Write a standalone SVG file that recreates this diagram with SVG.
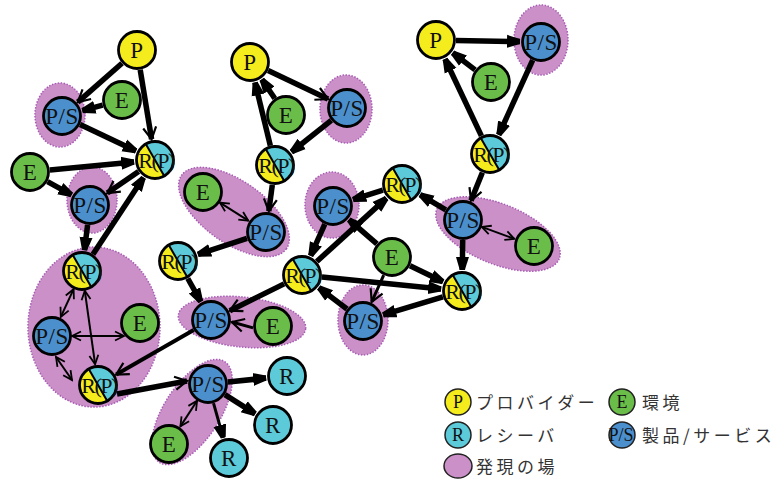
<svg xmlns="http://www.w3.org/2000/svg" width="774" height="480" viewBox="0 0 774 480">
<style>
.f{fill:#cb90c7;stroke:#a85bb5;stroke-width:1.5;stroke-dasharray:1.5 1.5}
.k{stroke:#000;stroke-width:5.5;fill:none}
.m{stroke:#000;stroke-width:3;fill:none}
.t{stroke:#000;stroke-width:2;fill:none}
.n{stroke:#000;stroke-width:2.8}
.y{fill:#f5ec1d}.g{fill:#6bbd4a}.b{fill:#4b8fcd}.c{fill:#5ccad8}
.lb{font-family:"Liberation Serif",serif;font-size:23px;text-anchor:middle;fill:#111;letter-spacing:0.5px}
.rp{font-family:"Liberation Serif",serif;font-size:22px;text-anchor:middle;fill:#111;letter-spacing:-1.5px}
.lg{font-family:"Noto Sans CJK JP",sans-serif;font-size:17px;letter-spacing:3.5px;fill:#333}
.li{stroke:#222;stroke-width:1.5}
.ll{font-family:"Liberation Serif",serif;font-size:18px;text-anchor:middle;fill:#111}
</style>
<defs>
<marker id="fh" markerUnits="userSpaceOnUse" markerWidth="16" markerHeight="16" refX="13" refY="8" orient="auto"><path d="M0,1.5 L13,5.5 L13,10.5 L0,14.5 z" fill="#000"/></marker>
<marker id="oh" markerUnits="userSpaceOnUse" markerWidth="16" markerHeight="16" refX="13" refY="8" orient="auto"><path d="M1,1.5 L13,8 L1,14.5" fill="none" stroke="#000" stroke-width="2.2"/></marker>
<marker id="ot" markerUnits="userSpaceOnUse" markerWidth="12" markerHeight="12" refX="10" refY="6" orient="auto-start-reverse"><path d="M1,1.5 L10,6 L1,10.5" fill="none" stroke="#000" stroke-width="1.8"/></marker>
</defs>

<g id="fields">
<ellipse class="f" cx="60" cy="115" rx="25" ry="32"/>
<ellipse class="f" cx="92" cy="200" rx="25" ry="33"/>
<ellipse class="f" cx="94" cy="327" rx="66" ry="80"/>
<ellipse class="f" cx="346" cy="109" rx="26" ry="34"/>
<ellipse class="f" cx="234" cy="212" rx="64" ry="31" transform="rotate(35 234 212)"/>
<ellipse class="f" cx="242" cy="322" rx="64" ry="25" transform="rotate(6 242 322)"/>
<ellipse class="f" cx="192" cy="412" rx="60" ry="28" transform="rotate(-57 192 412)"/>
<ellipse class="f" cx="541" cy="40" rx="27" ry="35"/>
<ellipse class="f" cx="332" cy="205" rx="27" ry="33"/>
<ellipse class="f" cx="498" cy="234" rx="66" ry="30" transform="rotate(22 498 234)"/>
<ellipse class="f" cx="363" cy="320" rx="25" ry="35"/>
</g>

<g id="connectors">
<line class="k" x1="122" y1="63.2" x2="77.8" y2="102.1" marker-end="url(#oh)"/>
<line class="k" x1="102.7" y1="105.2" x2="82.3" y2="110.6" marker-end="url(#fh)"/>
<line class="k" x1="140.2" y1="69.7" x2="151.6" y2="139.3" marker-end="url(#oh)"/>
<line class="k" x1="80.1" y1="124.6" x2="136" y2="151" marker-end="url(#fh)"/>
<line class="k" x1="49.9" y1="170.1" x2="134.1" y2="162" marker-end="url(#fh)"/>
<line class="k" x1="138.6" y1="171.4" x2="107.3" y2="193.1" marker-end="url(#oh)"/>
<line class="k" x1="47.5" y1="181.6" x2="71.6" y2="194.9" marker-end="url(#fh)"/>
<line class="k" x1="93" y1="254.3" x2="143.5" y2="177.5" marker-end="url(#fh)"/>
<line class="k" x1="87.6" y1="224.8" x2="84.5" y2="250.2" marker-end="url(#fh)"/>
<line class="t" x1="73.6" y1="289.2" x2="60.8" y2="316.9" marker-start="url(#ot)" marker-end="url(#ot)"/>
<line class="t" x1="84.8" y1="290.8" x2="95.1" y2="364.2" marker-start="url(#ot)" marker-end="url(#ot)"/>
<line class="t" x1="72" y1="336" x2="124" y2="336" marker-start="url(#ot)" marker-end="url(#ot)"/>
<line class="t" x1="56" y1="357" x2="72" y2="380" marker-start="url(#ot)" marker-end="url(#ot)"/>
<line class="m" style="stroke-width:4" x1="193.7" y1="330" x2="116.2" y2="374.5" marker-end="url(#oh)"/>
<line class="k" x1="117" y1="394" x2="187" y2="381" marker-end="url(#oh)"/>
<line class="k" x1="268.1" y1="70.6" x2="328" y2="99" marker-end="url(#oh)"/>
<line class="k" x1="274.8" y1="98.5" x2="261.8" y2="79.4" marker-end="url(#fh)"/>
<line class="k" x1="270.3" y1="145.6" x2="255" y2="82.4" marker-end="url(#fh)"/>
<line class="k" x1="331.3" y1="120.4" x2="291.5" y2="152" marker-end="url(#fh)"/>
<line class="k" x1="272.3" y1="184.8" x2="268.8" y2="211.2" marker-end="url(#oh)"/>
<line class="t" x1="219.9" y1="202.7" x2="248.3" y2="220.7" marker-start="url(#ot)" marker-end="url(#ot)"/>
<line class="k" x1="247" y1="238.3" x2="197.9" y2="254.4" marker-end="url(#fh)"/>
<line class="k" x1="187.8" y1="278.5" x2="200.8" y2="301.7" marker-end="url(#fh)"/>
<line class="k" x1="284.1" y1="283.9" x2="229.8" y2="310.7" marker-end="url(#oh)"/>
<line class="m" x1="253.1" y1="327.9" x2="231.9" y2="322" marker-end="url(#oh)"/>
<line class="k" x1="227.9" y1="382" x2="266.1" y2="378.1" marker-end="url(#fh)"/>
<line class="k" x1="224.9" y1="394.7" x2="255.2" y2="413.8" marker-end="url(#fh)"/>
<line class="m" x1="213.5" y1="403.2" x2="223.3" y2="437.8" marker-end="url(#fh)"/>
<line class="t" x1="197.1" y1="400.8" x2="180.4" y2="426.4" marker-start="url(#ot)" marker-end="url(#ot)"/>
<line class="k" x1="456" y1="40.4" x2="520" y2="41.6" marker-end="url(#fh)"/>
<line class="k" x1="475.1" y1="69.9" x2="452.7" y2="52.7" marker-end="url(#fh)"/>
<line class="k" x1="481.4" y1="135.9" x2="445" y2="59" marker-end="url(#fh)"/>
<line class="k" x1="532.7" y1="60.2" x2="498.7" y2="134.9" marker-end="url(#fh)"/>
<line class="k" x1="482.4" y1="172.5" x2="471" y2="200.6" marker-end="url(#oh)"/>
<line class="k" x1="445.8" y1="209.8" x2="420.1" y2="194.7" marker-end="url(#fh)"/>
<line class="k" x1="382.9" y1="190.1" x2="353" y2="199.6" marker-end="url(#fh)"/>
<line class="k" x1="324.8" y1="224.2" x2="310.6" y2="255.8" marker-end="url(#fh)"/>
<line class="k" x1="316.8" y1="261.5" x2="386.5" y2="198.1" marker-end="url(#fh)"/>
<line class="k" x1="376.9" y1="243.9" x2="348.9" y2="219.7" marker-end="url(#fh)"/>
<line class="k" x1="410" y1="265.7" x2="443.1" y2="281.8" marker-end="url(#fh)"/>
<line class="k" x1="321.9" y1="277" x2="441.1" y2="288.9" marker-end="url(#fh)"/>
<line class="m" x1="383.7" y1="275.2" x2="371.7" y2="301.9" marker-end="url(#oh)"/>
<line class="k" x1="347" y1="309" x2="318.8" y2="287.6" marker-end="url(#fh)"/>
<line class="k" x1="442.9" y1="296.8" x2="383.1" y2="314.9" marker-end="url(#fh)"/>
<line class="k" x1="462.7" y1="240" x2="462.3" y2="270" marker-end="url(#fh)"/>
<line class="t" x1="481.8" y1="226.9" x2="514.3" y2="238.8" marker-start="url(#ot)" marker-end="url(#ot)"/>
</g>

<g id="P1" transform="translate(137,50)"><circle r="18.5" class="n y"/><text y="8" class="lb">P</text></g>
<g id="P2" transform="translate(250,62)"><circle r="18.5" class="n y"/><text y="8" class="lb">P</text></g>
<g id="P3" transform="translate(436,40)"><circle r="18.5" class="n y"/><text y="8" class="lb">P</text></g>

<g id="E1" transform="translate(122,100)"><circle r="18.5" class="n g"/><text y="8" class="lb">E</text></g>
<g id="E2" transform="translate(30,172)"><circle r="18.5" class="n g"/><text y="8" class="lb">E</text></g>
<g id="E3" transform="translate(140,323)"><circle r="18.5" class="n g"/><text y="8" class="lb">E</text></g>
<g id="E4" transform="translate(286,115)"><circle r="18.5" class="n g"/><text y="8" class="lb">E</text></g>
<g id="E5" transform="translate(203,192)"><circle r="18.5" class="n g"/><text y="8" class="lb">E</text></g>
<g id="E6" transform="translate(273,326)"><circle r="18.5" class="n g"/><text y="8" class="lb">E</text></g>
<g id="E7" transform="translate(169,444)"><circle r="18.5" class="n g"/><text y="8" class="lb">E</text></g>
<g id="E8" transform="translate(491,82)"><circle r="18.5" class="n g"/><text y="8" class="lb">E</text></g>
<g id="E9" transform="translate(534,246)"><circle r="18.5" class="n g"/><text y="8" class="lb">E</text></g>
<g id="E10" transform="translate(392,257)"><circle r="18.5" class="n g"/><text y="8" class="lb">E</text></g>

<g id="PS1" transform="translate(62,116)"><circle r="18.5" class="n b"/><text y="8" class="lb">P/S</text></g>
<g id="PS2" transform="translate(90,205)"><circle r="18.5" class="n b"/><text y="8" class="lb">P/S</text></g>
<g id="PS3" transform="translate(52,336)"><circle r="18.5" class="n b"/><text y="8" class="lb">P/S</text></g>
<g id="PS4" transform="translate(347,108)"><circle r="18.5" class="n b"/><text y="8" class="lb">P/S</text></g>
<g id="PS5" transform="translate(266,232)"><circle r="18.5" class="n b"/><text y="8" class="lb">P/S</text></g>
<g id="PS6" transform="translate(211,320)"><circle r="18.5" class="n b"/><text y="8" class="lb">P/S</text></g>
<g id="PS7" transform="translate(208,384)"><circle r="18.5" class="n b"/><text y="8" class="lb">P/S</text></g>
<g id="PS8" transform="translate(541,42)"><circle r="18.5" class="n b"/><text y="8" class="lb">P/S</text></g>
<g id="PS9" transform="translate(333,206)"><circle r="18.5" class="n b"/><text y="8" class="lb">P/S</text></g>
<g id="PS10" transform="translate(463,220)"><circle r="18.5" class="n b"/><text y="8" class="lb">P/S</text></g>
<g id="PS11" transform="translate(363,321)"><circle r="18.5" class="n b"/><text y="8" class="lb">P/S</text></g>

<g id="R1" transform="translate(287,376)"><circle r="18.5" class="n c"/><text y="8" class="lb">R</text></g>
<g id="R2" transform="translate(273,425)"><circle r="18.5" class="n c"/><text y="8" class="lb">R</text></g>
<g id="R3" transform="translate(229,458)"><circle r="18.5" class="n c"/><text y="8" class="lb">R</text></g>

<g id="RP1" transform="translate(155,160)"><circle r="18.5" class="y"/><path d="M-9.25,-16.02 A18.5,18.5 0 0 1 9.25,16.02 Z" class="c"/><line x1="-9.25" y1="-16.02" x2="9.25" y2="16.02" class="t"/><circle r="18.5" class="n" fill="none"/><text x="1" y="8" class="rp">R(P)</text></g>
<g id="RP2" transform="translate(82,271)"><circle r="18.5" class="y"/><path d="M-9.25,-16.02 A18.5,18.5 0 0 1 9.25,16.02 Z" class="c"/><line x1="-9.25" y1="-16.02" x2="9.25" y2="16.02" class="t"/><circle r="18.5" class="n" fill="none"/><text x="1" y="8" class="rp">R(P)</text></g>
<g id="RP3" transform="translate(98,385)"><circle r="18.5" class="y"/><path d="M-9.25,-16.02 A18.5,18.5 0 0 1 9.25,16.02 Z" class="c"/><line x1="-9.25" y1="-16.02" x2="9.25" y2="16.02" class="t"/><circle r="18.5" class="n" fill="none"/><text x="1" y="8" class="rp">R(P)</text></g>
<g id="RP4" transform="translate(275,165)"><circle r="18.5" class="y"/><path d="M-9.25,-16.02 A18.5,18.5 0 0 1 9.25,16.02 Z" class="c"/><line x1="-9.25" y1="-16.02" x2="9.25" y2="16.02" class="t"/><circle r="18.5" class="n" fill="none"/><text x="1" y="8" class="rp">R(P)</text></g>
<g id="RP5" transform="translate(178,261)"><circle r="18.5" class="y"/><path d="M-9.25,-16.02 A18.5,18.5 0 0 1 9.25,16.02 Z" class="c"/><line x1="-9.25" y1="-16.02" x2="9.25" y2="16.02" class="t"/><circle r="18.5" class="n" fill="none"/><text x="1" y="8" class="rp">R(P)</text></g>
<g id="RP6" transform="translate(490,154)"><circle r="18.5" class="y"/><path d="M-9.25,-16.02 A18.5,18.5 0 0 1 9.25,16.02 Z" class="c"/><line x1="-9.25" y1="-16.02" x2="9.25" y2="16.02" class="t"/><circle r="18.5" class="n" fill="none"/><text x="1" y="8" class="rp">R(P)</text></g>
<g id="RP7" transform="translate(402,184)"><circle r="18.5" class="y"/><path d="M-9.25,-16.02 A18.5,18.5 0 0 1 9.25,16.02 Z" class="c"/><line x1="-9.25" y1="-16.02" x2="9.25" y2="16.02" class="t"/><circle r="18.5" class="n" fill="none"/><text x="1" y="8" class="rp">R(P)</text></g>
<g id="RP8" transform="translate(302,275)"><circle r="18.5" class="y"/><path d="M-9.25,-16.02 A18.5,18.5 0 0 1 9.25,16.02 Z" class="c"/><line x1="-9.25" y1="-16.02" x2="9.25" y2="16.02" class="t"/><circle r="18.5" class="n" fill="none"/><text x="1" y="8" class="rp">R(P)</text></g>
<g id="RP9" transform="translate(462,291)"><circle r="18.5" class="y"/><path d="M-9.25,-16.02 A18.5,18.5 0 0 1 9.25,16.02 Z" class="c"/><line x1="-9.25" y1="-16.02" x2="9.25" y2="16.02" class="t"/><circle r="18.5" class="n" fill="none"/><text x="1" y="8" class="rp">R(P)</text></g>

<g id="legend">
<circle cx="458" cy="402" r="13" class="li y"/><text x="458" y="408" class="ll">P</text>
<text x="476" y="409" class="lg">プロバイダー</text>
<circle cx="622" cy="402" r="13" class="li g"/><text x="622" y="408" class="ll">E</text>
<text x="642" y="409" class="lg">環境</text>
<circle cx="458" cy="435" r="13" class="li c"/><text x="458" y="441" class="ll">R</text>
<text x="476" y="442" class="lg">レシーバ</text>
<circle cx="622" cy="435" r="13" class="li b"/><text x="621" y="441" class="ll">P/S</text>
<text x="642" y="442" class="lg">製品/サービス</text>
<ellipse cx="458" cy="466" rx="14" ry="12" class="li" fill="#cb90c7"/>
<text x="476" y="473" class="lg">発現の場</text>
</g>
</svg>
